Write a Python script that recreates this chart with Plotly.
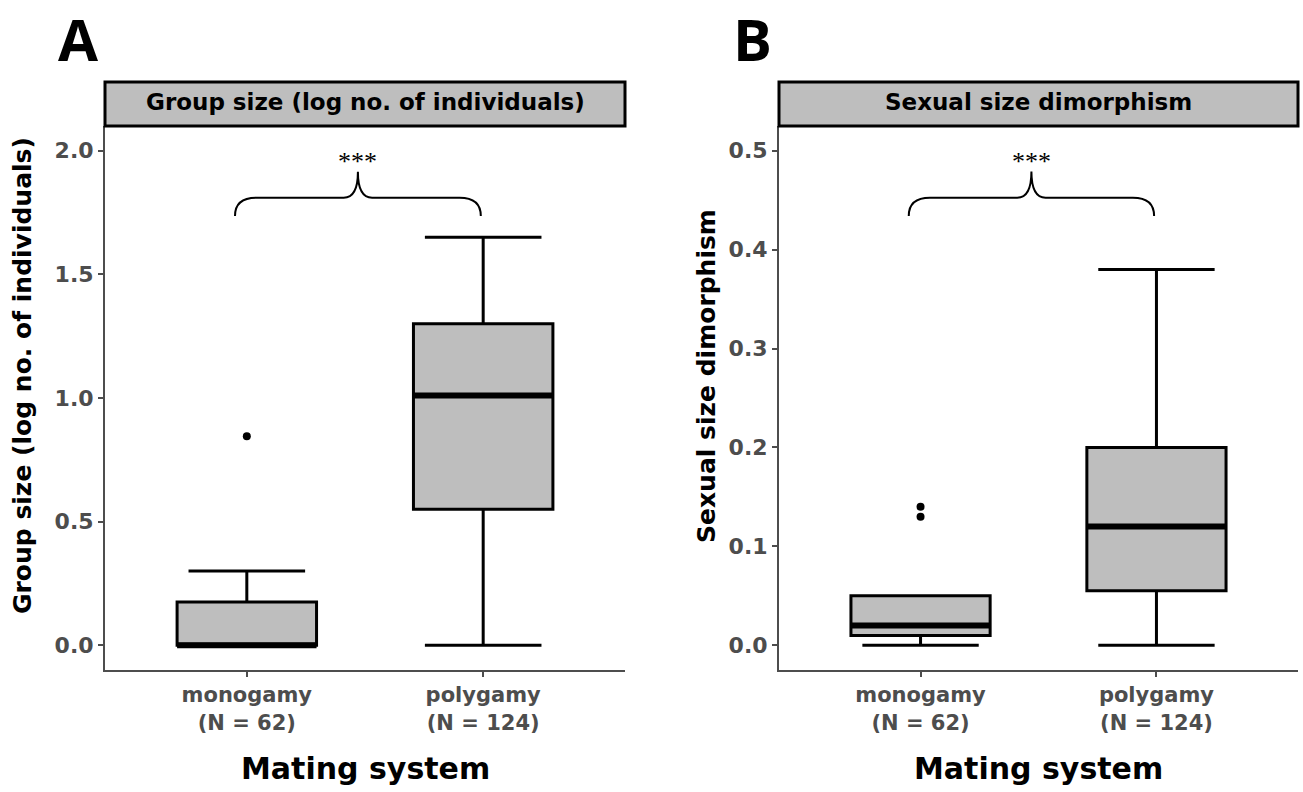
import plotly.graph_objects as go

# ---------------- data ----------------
categories = ["monogamy", "polygamy"]
tick_text = ["monogamy<br>(N = 62)", "polygamy<br>(N = 124)"]
cat_pos = [1, 2]

# Panel A: group size (log no. of individuals)
a_q1 = [0.0, 0.55]
a_median = [0.0, 1.01]
a_q3 = [0.175, 1.30]
a_lower = [0.0, 0.0]
a_upper = [0.30, 1.65]
a_out_x = [1]
a_out_y = [0.845]

# Panel B: sexual size dimorphism
b_q1 = [0.01, 0.055]
b_median = [0.02, 0.12]
b_q3 = [0.05, 0.20]
b_lower = [0.0, 0.0]
b_upper = [0.05, 0.38]
b_out_x = [1, 1]
b_out_y = [0.14, 0.13]

a_ticks = [0.0, 0.5, 1.0, 1.5, 2.0]
b_ticks = [0.0, 0.1, 0.2, 0.3, 0.4, 0.5]

# significance brace (data units): ends, flat, tip, label
a_brace = dict(y_end=1.736, y_flat=1.81, y_tip=1.915, y_lab=1.955)
b_brace = dict(y_end=0.434, y_flat=0.4525, y_tip=0.479, y_lab=0.489)

# ---------------- style ----------------
W, H = 1303, 792
BOX_W = 0.59
CAP = 0.836
FILL = "#bebebe"
TICK_COL = "#4d4d4d"
FONT = "DejaVu Sans"


def px_x(p):
    return p / W


def px_y(p):
    return 1 - p / H


dom_a = [px_x(105), px_x(625)]
dom_b = [px_x(779), px_x(1298)]
dom_y = [px_y(670), px_y(126)]

fig = go.Figure()


def add_panel(xa, ya, q1, med, q3, lo, up, ox, oy):
    for i in range(len(categories)):
        fig.add_trace(go.Box(
            x=[cat_pos[i]], q1=[q1[i]], median=[med[i]], q3=[q3[i]],
            lowerfence=[lo[i]], upperfence=[up[i]],
            width=BOX_W, whiskerwidth=CAP, fillcolor=FILL,
            line=dict(color="black", width=3), boxpoints=False,
            xaxis=xa, yaxis=ya, showlegend=False, hoverinfo="skip"))
        # thick median line
        fig.add_trace(go.Scatter(
            x=[cat_pos[i] - BOX_W / 2, cat_pos[i] + BOX_W / 2],
            y=[med[i], med[i]], mode="lines",
            line=dict(color="black", width=6),
            xaxis=xa, yaxis=ya, showlegend=False, hoverinfo="skip"))
    fig.add_trace(go.Scatter(
        x=ox, y=oy, mode="markers",
        marker=dict(color="black", size=8),
        xaxis=xa, yaxis=ya, showlegend=False, hoverinfo="skip"))


add_panel("x", "y", a_q1, a_median, a_q3, a_lower, a_upper, a_out_x, a_out_y)
add_panel("x2", "y2", b_q1, b_median, b_q3, b_lower, b_upper, b_out_x, b_out_y)


def brace_path(x0, x1, ye, yf, yt, dx_end, dx_mid):
    xm = (x0 + x1) / 2
    return (f"M {x0},{ye} Q {x0},{yf} {x0 + dx_end},{yf} "
            f"L {xm - dx_mid},{yf} Q {xm},{yf} {xm},{yt} "
            f"Q {xm},{yf} {xm + dx_mid},{yf} "
            f"L {x1 - dx_end},{yf} Q {x1},{yf} {x1},{ye}")


shapes = []
annotations = []


def ann(**kw):
    kw.setdefault("showarrow", False)
    kw.setdefault("xanchor", "center")
    kw.setdefault("yanchor", "middle")
    annotations.append(kw)


for xr, yr, br in (("x", "y", a_brace), ("x2", "y2", b_brace)):
    x0, x1 = cat_pos[0] - 0.05, cat_pos[1] - 0.01
    shapes.append(dict(type="path", xref=xr, yref=yr,
                       path=brace_path(x0, x1, br["y_end"], br["y_flat"], br["y_tip"], 0.09, 0.06),
                       line=dict(color="black", width=2)))
    ann(x=(x0 + x1) / 2, y=br["y_lab"], xref=xr, yref=yr, text="***",
        font=dict(family="Liberation Serif", size=26, color="black"))

# strip boxes
for dom, title in ((dom_a, "Group size (log no. of individuals)"), (dom_b, "Sexual size dimorphism")):
    shapes.append(dict(type="rect", xref="paper", yref="paper",
                       x0=dom[0], x1=dom[1], y0=dom_y[1], y1=px_y(82),
                       fillcolor=FILL, line=dict(color="black", width=3), layer="above"))
    ann(x=(dom[0] + dom[1]) / 2, y=(dom_y[1] + px_y(82)) / 2 + 0.002,
        xref="paper", yref="paper", text="<b>" + title + "</b>",
        font=dict(family=FONT, size=23, color="black"))

# y-axis titles
ann(x=px_x(23), y=px_y(376), xref="paper", yref="paper",
    text="<b>Group size (log no. of individuals)</b>", textangle=-90,
    font=dict(family=FONT, size=25, color="black"))
ann(x=px_x(707), y=px_y(376), xref="paper", yref="paper",
    text="<b>Sexual size dimorphism</b>", textangle=-90,
    font=dict(family=FONT, size=25, color="black"))
# x-axis titles
for dom in (dom_a, dom_b):
    ann(x=(dom[0] + dom[1]) / 2, y=px_y(768), xref="paper", yref="paper",
        text="<b>Mating system</b>", font=dict(family=FONT, size=30, color="black"))
# panel letters
for lx, letter in ((78, "A"), (752, "B")):
    ann(x=px_x(lx), y=px_y(38), xref="paper", yref="paper",
        text="<b>" + letter + "</b>", font=dict(family="Open Sans", size=58, color="black"))

axis_common = dict(showline=True, linecolor="#4d4d4d", linewidth=2, ticks="outside",
                   ticklen=5, tickwidth=1.5, tickcolor="#4d4d4d", showgrid=False,
                   zeroline=False, mirror=False)
xaxis_common = dict(axis_common, range=[0.4, 2.6], tickvals=cat_pos,
                    ticktext=["<b>" + t + "</b>" for t in tick_text],
                    tickfont=dict(family=FONT, size=21, color=TICK_COL))

fig.update_layout(
    width=W, height=H, margin=dict(l=0, r=0, t=0, b=0),
    paper_bgcolor="white", plot_bgcolor="white",
    font=dict(family=FONT),
    xaxis=dict(xaxis_common, domain=dom_a, anchor="y"),
    xaxis2=dict(xaxis_common, domain=dom_b, anchor="y2"),
    yaxis=dict(axis_common, domain=dom_y, anchor="x", range=[-0.1, 2.1],
               tickvals=a_ticks, ticktext=[f"<b>{v:.1f}</b>" for v in a_ticks],
               tickfont=dict(family=FONT, size=22, color=TICK_COL)),
    yaxis2=dict(axis_common, domain=dom_y, anchor="x2", range=[-0.025, 0.525],
                tickvals=b_ticks, ticktext=[f"<b>{v:.1f}</b>" for v in b_ticks],
                tickfont=dict(family=FONT, size=22, color=TICK_COL)),
    shapes=shapes, annotations=annotations,
)

fig.write_html("out.html")
